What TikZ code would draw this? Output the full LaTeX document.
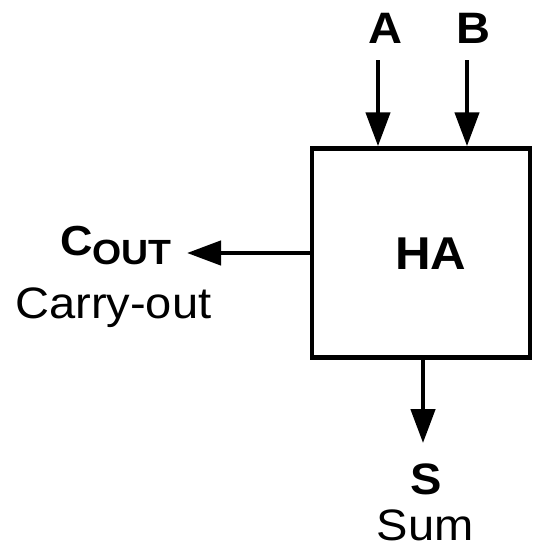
\documentclass[tikz,border=0pt]{standalone}
\usepackage{fontspec}
\setmainfont{Liberation Sans}[FakeStretch=1.07]
\usetikzlibrary{positioning, arrows.meta}

\begin{document}
\begin{tikzpicture}[x=1pt, y=-1pt,
    sig/.style={line width=4.5pt, -{Triangle[length=34pt, width=24pt]}},
    pin/.style={font=\fontsize{44}{46}\selectfont\bfseries, inner sep=0pt},
    note/.style={font=\fontsize{44}{46}\selectfont, inner sep=0pt}]
  \useasboundingbox (0,0) rectangle (535,549);
  % half adder block
  \node[draw, line width=4.5pt, minimum width=218pt, minimum height=209pt] (ha) at (421,253) {};
  \node[font=\fontsize{46}{48}\selectfont\bfseries, inner sep=0pt] (halbl) at (431,254) {HA};
  % inputs
  \node[pin] (a) at (385,28) {A};
  \node[pin] (b) at (473,28) {B};
  \draw[sig] ([xshift=-7pt, yshift=-17pt]a.south) -- ([xshift=-7pt]a.south |- ha.north);
  \draw[sig] ([xshift=-6pt, yshift=-17pt]b.south) -- ([xshift=-6pt]b.south |- ha.north);
  % carry out
  \node[pin, font=\fontsize{42}{44}\selectfont\bfseries, anchor=base east] (cout) at (172,255)
    {C\raisebox{-9pt}{\fontsize{35}{37}\selectfont OUT}};
  \node[note, anchor=base west] (carry) at (15,318) {Carry-out};
  \draw[sig] (ha.west) -- ([xshift=15pt]cout.east |- ha.west);
  % sum
  \node[pin, anchor=base] (s) at (426,494) {S};
  \node[note, anchor=base] (sum) at (425,540) {Sum};
  \draw[sig] ([xshift=-3pt]s.north |- ha.south) -- ([xshift=-3pt, yshift=20pt]s.north);
\end{tikzpicture}
\end{document}
